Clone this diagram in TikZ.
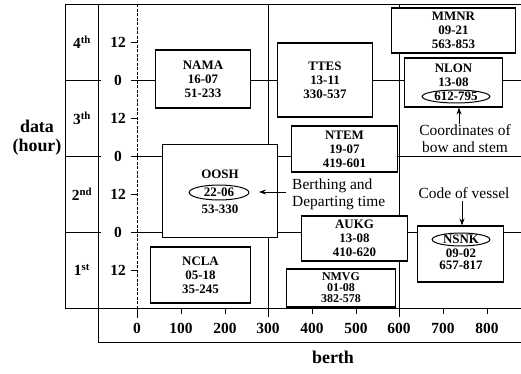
\documentclass[tikz,border=0pt]{standalone}
\usepackage{fontspec}
\setmainfont{Liberation Serif}
\usetikzlibrary{shapes.geometric,arrows.meta}
\begin{document}
\begin{tikzpicture}[x=1bp,y=-1bp,
  frame/.style={line width=0.8bp},
  vbox/.style={draw,line width=1.3bp,fill=white,inner sep=0pt,align=center,font=\fontsize{13}{14}\selectfont\bfseries},
  btxt/.style={inner sep=0pt,font=\fontsize{13}{14}\selectfont\bfseries},
  oval/.style={draw,ellipse,line width=1bp,inner sep=0pt,font=\fontsize{13}{14}\selectfont\bfseries},
  ann/.style={inner sep=0pt,font=\fontsize{15.5}{17}\selectfont},
  axnum/.style={inner sep=0pt,font=\fontsize{15.5}{16}\selectfont\bfseries},
  axtitle/.style={inner sep=0pt,align=center,font=\fontsize{18}{19}\selectfont\bfseries},
  arr/.style={-{Stealth[length=7bp,width=5bp]},line width=1bp}]
\useasboundingbox (0,0) rectangle (521,373);
% frame
\draw[frame] (65,4) -- (521,4);
\draw[frame] (65,4) -- (65,308) -- (521,308);
\draw[frame] (98,4) -- (98,342) -- (521,342);
\draw[frame,dash pattern=on 3bp off 1.5bp] (137,4) -- (137,308);
% day lines and hour labels
\foreach \y in {80,156,232}{
  \draw[frame] (65,\y) -- (101,\y);
  \draw[frame] (131,\y) -- (521,\y);
  \node[axnum] (zero\y) at (118,\y) {0};
}
\foreach \y in {42,118,194,270}{
  \draw[frame] (131,\y) -- (137,\y);
  \node[axnum] (twelve\y) at (118,\y) {12};
}
% vertical berth lines
\draw[frame] (268,4) -- (268,317);
\draw[frame] (399,4) -- (399,317);
% bottom ticks
\draw[frame] (137,308) -- (137,318);
\foreach \x in {181,225,312,356,443,487}{
  \draw[frame] (\x,308) -- (\x,314);
}
\foreach \x/\t in {137/0,181/100,225/200,268/300,312/400,356/500,399/600,443/700,487/800}{
  \node[axnum] (bx\t) at (\x,328) {\t};
}
% day labels
\node[axnum] (d4) at (82,42) {4\textsuperscript{th}};
\node[axnum] (d3) at (82,118) {3\textsuperscript{th}};
\node[axnum] (d2) at (82,194) {2\textsuperscript{nd}};
\node[axnum] (d1) at (82,270) {1\textsuperscript{st}};
\node[axtitle] (ylab) at (37,138) {data\\(hour)};
\node[axtitle] (xlab) at (333,357) {berth};
% vessel boxes
\node[vbox,minimum width=96,minimum height=58] (nama) at (203,79) {NAMA\\16-07\\51-233};
\node[vbox,minimum width=96,minimum height=74] (ttes) at (325,80) {TTES\\13-11\\330-537};
\node[vbox,minimum width=125,minimum height=45] (mmnr) at (453.5,30.5) {MMNR\\09-21\\563-853};
\node[vbox,minimum width=99,minimum height=49] (nlon) at (453.5,82.5) {};
\node[btxt] (nlonA) at (453.5,68) {NLON};
\node[btxt] (nlonB) at (453.5,82) {13-08};
\node[oval,minimum width=68,minimum height=13] (nlonE) at (456,96.5) {612-795};
\node[vbox,minimum width=107,minimum height=46] (ntem) at (344.5,149) {NTEM\\19-07\\419-601};
\node[vbox,minimum width=116,minimum height=94] (oosh) at (220,191) {};
\node[btxt] (ooshA) at (220,174) {OOSH};
\node[oval,minimum width=60,minimum height=15] (ooshE) at (219,192.5) {22-06};
\node[btxt] (ooshC) at (220,209) {53-330};
\node[vbox,minimum width=107,minimum height=45] (aukg) at (354.5,238.5) {AUKG\\13-08\\410-620};
\node[vbox,minimum width=87,minimum height=56] (nsnk) at (460.5,254) {};
\node[oval,minimum width=58,minimum height=13] (nsnkE) at (461,239.5) {NSNK};
\node[btxt] (nsnkB) at (461,253) {09-02};
\node[btxt] (nsnkC) at (461,265) {657-817};
\node[vbox,minimum width=110,minimum height=38,font=\fontsize{12}{11}\selectfont\bfseries] (nmvg) at (341,288) {NMVG\\01-08\\382-578};
\node[vbox,minimum width=101,minimum height=56] (ncla) at (200.5,275) {NCLA\\05-18\\35-245};
% annotations
\node[ann,align=center] (coordlbl) at (465,139) {Coordinates of\\bow and stem};
\node[ann,align=left,anchor=west] (berthlbl) at (292,194.5) {Berthing and\\Departing time};
\node[ann] (codelbl) at (464,193) {Code of vessel};
\coordinate (a1) at (459,124);
\draw[arr] (a1) -- (a1 |- nlon.south);
\coordinate (a2) at (286,192);
\coordinate (a2t) at (259,192);
\draw[arr] (a2) -- (a2t);
\coordinate (a3) at (462,201);
\draw[arr] (a3) -- (a3 |- nsnk.north);
\end{tikzpicture}
\end{document}
